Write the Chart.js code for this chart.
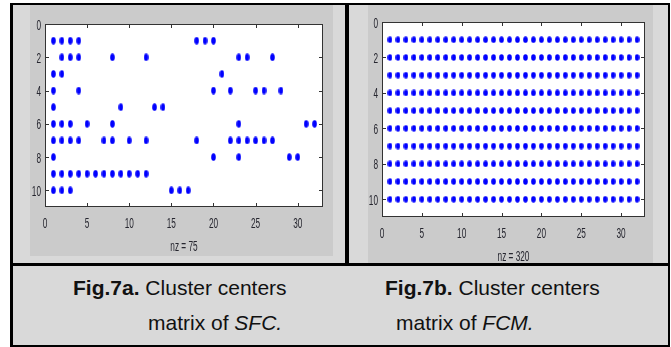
<!DOCTYPE html>
<html>
<head>
<meta charset="utf-8">
<script src="https://cdn.jsdelivr.net/npm/chart.js@4.4.1/dist/chart.umd.min.js"></script>
<style>
  body { margin: 0; background: #fff; width: 671px; height: 347px; position: relative; overflow: hidden; }
  .abs { position: absolute; }
  .line { position: absolute; background: #000; }
  .fig { position: absolute; background: #cbcbcb; overflow: hidden; }
  .fig canvas { display: block; }
  .cap { position: absolute; font-family: "Liberation Sans", Arial, sans-serif; font-size: 21px; line-height: 21px; color: #111; white-space: nowrap; }
</style>
</head>
<body>
<div class="abs" style="left:13px;top:5px;width:655px;height:340px;background:#d9d9d9"></div>

<div class="fig" style="left:30px;top:5px;width:303px;height:251px">
  <canvas id="chartSFC" width="303" height="251"></canvas>
</div>
<div class="fig" style="left:368px;top:5px;width:285px;height:258px">
  <canvas id="chartFCM" width="285" height="258"></canvas>
</div>

<!-- table rules -->
<div class="line" style="left:10px;top:3px;width:660px;height:2px"></div>
<div class="line" style="left:10px;top:3px;width:3px;height:344px"></div>
<div class="line" style="left:668px;top:3px;width:2px;height:344px"></div>
<div class="line" style="left:10px;top:345px;width:660px;height:2px"></div>
<div class="line" style="left:10px;top:263px;width:660px;height:3px"></div>
<div class="line" style="left:345px;top:3px;width:4px;height:260px"></div>

<div class="cap" style="left:73px;top:277px"><b>Fig.7a.</b> Cluster centers</div>
<div class="cap" style="left:148px;top:312px">matrix of <i>SFC.</i></div>
<div class="cap" style="left:385px;top:277px"><b>Fig.7b.</b> Cluster centers</div>
<div class="cap" style="left:396px;top:312px">matrix of <i>FCM.</i></div>

<script>
// tick labels
const xTicks = [0, 5, 10, 15, 20, 25, 30];
const yTicks = [0, 2, 4, 6, 8, 10];

// SFC cluster centers: filled columns of each row (rows 1..10), nz = 75
const sfcRow1 = [1, 2, 3, 4, 18, 19, 20];
const sfcRow2 = [2, 3, 4, 8, 12, 23, 24, 27];
const sfcRow3 = [1, 2, 21];
const sfcRow4 = [1, 4, 20, 22, 25, 26, 28];
const sfcRow5 = [1, 9, 13, 14];
const sfcRow6 = [1, 2, 3, 5, 8, 23, 31, 32];
const sfcRow7 = [1, 2, 3, 4, 7, 8, 10, 12, 18, 22, 23, 24, 25, 26, 27];
const sfcRow8 = [1, 20, 23, 29, 30];
const sfcRow9 = [1, 2, 3, 4, 5, 6, 7, 8, 9, 10, 11, 12];
const sfcRow10 = [1, 2, 3, 15, 16, 17];
const sfcRows = [sfcRow1, sfcRow2, sfcRow3, sfcRow4, sfcRow5, sfcRow6, sfcRow7, sfcRow8, sfcRow9, sfcRow10];

// FCM cluster centers: every cell is filled, nz = 320
const fcmRows = [1, 2, 3, 4, 5, 6, 7, 8, 9, 10];
const fcmCols = [1, 2, 3, 4, 5, 6, 7, 8, 9, 10, 11, 12, 13, 14, 15, 16,
                 17, 18, 19, 20, 21, 22, 23, 24, 25, 26, 27, 28, 29, 30, 31, 32];

const sfcPoints = [];
sfcRows.forEach((cols, i) => cols.forEach(c => sfcPoints.push({ x: c, y: i + 1 })));

const fcmPoints = [];
fcmRows.forEach(r => fcmCols.forEach(c => fcmPoints.push({ x: c, y: r })));

// matlab spy dots look like small upright ellipses
function makeDot(w, h) {
  const c = document.createElement('canvas');
  c.width = w;
  c.height = h;
  const g = c.getContext('2d');
  g.fillStyle = '#0000ff';
  g.beginPath();
  g.ellipse(w / 2, h / 2, w / 2 - 0.2, h / 2 - 0.2, 0, 0, Math.PI * 2);
  g.fill();
  return c;
}

const labelFont = '15px "Liberation Sans", Arial, sans-serif';
const labelColor = '#26262f';

// squeezed text, like the stretched matlab screenshot
function narrowText(ctx, text, x, y, align) {
  ctx.save();
  ctx.translate(x, y);
  ctx.scale(0.55, 1);
  ctx.textAlign = align;
  ctx.textBaseline = 'alphabetic';
  ctx.fillText(text, 0, 0);
  ctx.restore();
}

// white axes box, inward ticks on all four sides, tick labels and nz text
const boxPlugin = {
  id: 'box',
  beforeDraw(chart) {
    const { ctx, chartArea: a } = chart;
    ctx.save();
    ctx.fillStyle = '#fff';
    ctx.fillRect(a.left, a.top, a.right - a.left, a.bottom - a.top);
    ctx.restore();
  },
  afterDraw(chart) {
    const { ctx, chartArea: a, scales: { x, y } } = chart;
    ctx.save();
    ctx.strokeStyle = '#333';
    ctx.lineWidth = 1;
    ctx.strokeRect(a.left + 0.5, a.top + 0.5, a.right - a.left - 1, a.bottom - a.top - 1);
    ctx.beginPath();
    x.ticks.forEach(t => {
      const px = Math.round(x.getPixelForValue(t.value)) + 0.5;
      ctx.moveTo(px, a.top); ctx.lineTo(px, a.top + 4);
      ctx.moveTo(px, a.bottom); ctx.lineTo(px, a.bottom - 4);
    });
    y.ticks.forEach(t => {
      const py = Math.round(y.getPixelForValue(t.value)) + 0.5;
      ctx.moveTo(a.left, py); ctx.lineTo(a.left + 4, py);
      ctx.moveTo(a.right, py); ctx.lineTo(a.right - 4, py);
    });
    ctx.stroke();

    ctx.font = labelFont;
    ctx.fillStyle = labelColor;
    x.ticks.forEach(t => narrowText(ctx, String(t.value), x.getPixelForValue(t.value), a.bottom + 21, 'center'));
    y.ticks.forEach(t => narrowText(ctx, String(t.value), a.left - 4, y.getPixelForValue(t.value) + 5.5, 'right'));
    narrowText(ctx, chart.options.plugins.box.nz, (a.left + a.right) / 2, a.bottom + 44, 'center');
    ctx.restore();
  }
};

function spyChart(canvasId, points, dot, nzText, cfg) {
  new Chart(document.getElementById(canvasId), {
    type: 'scatter',
    data: {
      datasets: [{
        data: points,
        pointStyle: dot,
        pointRadius: 3,
        pointHoverRadius: 3
      }]
    },
    options: {
      responsive: false,
      animation: false,
      devicePixelRatio: 1,
      layout: { padding: { top: cfg.padTop, right: cfg.padRight, left: 0, bottom: 0 } },
      plugins: { legend: { display: false }, tooltip: { enabled: false }, box: { nz: nzText } },
      scales: {
        x: {
          type: 'linear',
          min: 0,
          max: 33,
          grid: { display: false, drawTicks: false },
          border: { display: false },
          afterBuildTicks: s => { s.ticks = xTicks.map(v => ({ value: v })); },
          afterFit: s => { s.height = cfg.xHeight; },
          ticks: { display: false }
        },
        y: {
          type: 'linear',
          reverse: true,
          min: 0,
          max: 11,
          grid: { display: false, drawTicks: false },
          border: { display: false },
          afterBuildTicks: s => { s.ticks = yTicks.map(v => ({ value: v })); },
          afterFit: s => { s.width = cfg.yWidth; },
          ticks: { display: false }
        }
      }
    },
    plugins: [boxPlugin]
  });
}

spyChart('chartSFC', sfcPoints, makeDot(5, 8), 'nz = 75',
  { padTop: 19, padRight: 10, xHeight: 49, yWidth: 15 });
spyChart('chartFCM', fcmPoints, makeDot(5, 7), 'nz = 320',
  { padTop: 17, padRight: 8, xHeight: 46, yWidth: 14 });
</script>
</body>
</html>
